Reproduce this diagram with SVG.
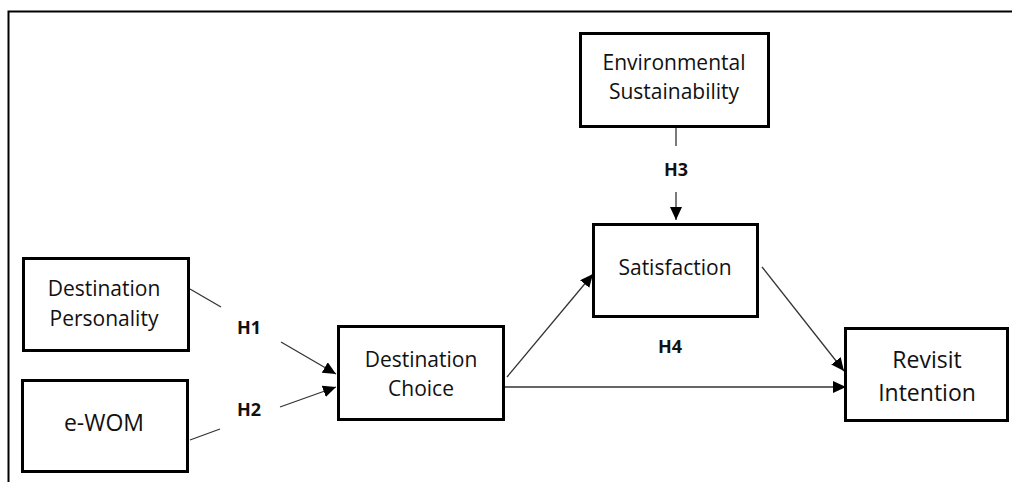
<svg xmlns="http://www.w3.org/2000/svg" width="1012" height="482" viewBox="0 0 1012 482">
  <style>
    .box { fill: #ffffff; stroke: #000000; stroke-width: 3; }
    .lbl { font-family: "Open Sans", "Liberation Sans", sans-serif; font-size: 21px; fill: #111111; text-anchor: middle; }
    .big { font-size: 23px; }
    .hyp { font-family: "Open Sans", "Liberation Sans", sans-serif; font-size: 18px; font-weight: bold; fill: #111111; text-anchor: middle; }
    .ln { stroke: #333333; stroke-width: 1.3; fill: none; }
  </style>
  <defs>
    <marker id="arr" markerUnits="userSpaceOnUse" markerWidth="14" markerHeight="13" refX="13" refY="6" orient="auto">
      <path d="M0,0 L13,6 L0,12 z" fill="#000000"/>
    </marker>
  </defs>
  <rect width="1012" height="482" fill="#ffffff"/>
  <path d="M8.5,482 V11.5 H1012" fill="none" stroke="#000000" stroke-width="2"/>

  <g id="connectors">
    <line class="ln" x1="190" y1="289" x2="221" y2="307"/>
    <line class="ln" x1="281" y1="342" x2="336" y2="374" marker-end="url(#arr)"/>
    <line class="ln" x1="190" y1="440" x2="220" y2="429"/>
    <line class="ln" x1="280" y1="407" x2="336" y2="387" marker-end="url(#arr)"/>
    <line class="ln" x1="676" y1="128" x2="676" y2="146"/>
    <line class="ln" x1="676" y1="192" x2="676" y2="220" marker-end="url(#arr)"/>
    <line class="ln" x1="507" y1="377" x2="593" y2="274" marker-end="url(#arr)"/>
    <line class="ln" x1="762" y1="267" x2="844" y2="371" marker-end="url(#arr)"/>
    <line class="ln" x1="505" y1="387" x2="846" y2="387" marker-end="url(#arr)"/>
    <text class="hyp" x="249" y="334">H1</text>
    <text class="hyp" x="249" y="416">H2</text>
    <text class="hyp" x="676" y="176">H3</text>
    <text class="hyp" x="670" y="353">H4</text>
  </g>

  <g id="env">
    <rect class="box" x="580.5" y="33.5" width="188" height="93"/>
    <text class="lbl" x="674" y="70">Environmental</text>
    <text class="lbl" x="674" y="99">Sustainability</text>
  </g>
  <g id="sat">
    <rect class="box" x="593.5" y="224.5" width="164" height="92"/>
    <text class="lbl" x="675" y="275">Satisfaction</text>
  </g>
  <g id="dp">
    <rect class="box" x="23.5" y="258.5" width="165" height="92"/>
    <text class="lbl" x="104" y="296">Destination</text>
    <text class="lbl" x="104" y="326">Personality</text>
  </g>
  <g id="ewom">
    <rect class="box" x="22.5" y="380.5" width="165" height="91"/>
    <text class="lbl big" x="104" y="431">e-WOM</text>
  </g>
  <g id="dc">
    <rect class="box" x="338.5" y="326.5" width="165" height="93"/>
    <text class="lbl" x="421" y="367">Destination</text>
    <text class="lbl" x="421" y="396">Choice</text>
  </g>
  <g id="ri">
    <rect class="box" x="845.5" y="328.5" width="162" height="92"/>
    <text class="lbl big" x="927" y="368">Revisit</text>
    <text class="lbl big" x="927" y="401">Intention</text>
  </g>
</svg>
